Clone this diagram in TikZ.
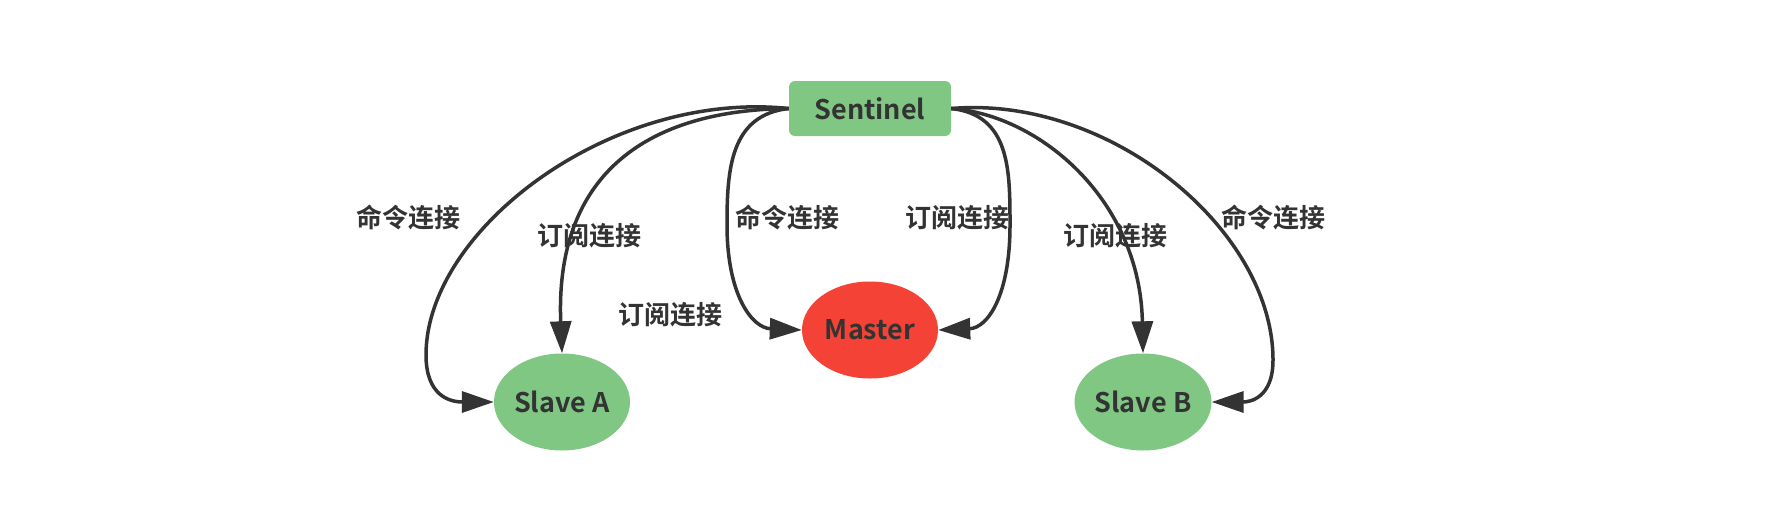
\documentclass[tikz,border=0pt]{standalone}
\usepackage{fontspec}
\setmainfont{Noto Sans CJK SC}[BoldFont={Noto Sans CJK SC Bold}]
\usetikzlibrary{arrows.meta,shapes.geometric}
\definecolor{nodegreen}{HTML}{81C784}
\definecolor{nodered}{HTML}{F44336}
\definecolor{ink}{HTML}{333333}
\tikzset{
  boxnode/.style={draw=none,fill=nodegreen,rounded corners=6pt,minimum width=162pt,minimum height=55pt,inner sep=0pt,text=ink,font=\fontsize{27pt}{30pt}\selectfont\bfseries},
  ellnode/.style={ellipse,draw=none,minimum width=136pt,minimum height=97pt,inner sep=0pt,text=ink,font=\fontsize{27pt}{30pt}\selectfont\bfseries},
  lbl/.style={text=ink,inner sep=0pt,font=\fontsize{26pt}{28pt}\selectfont\bfseries},
  conn/.style={draw=ink,line width=3.5pt,-{Triangle[length=32pt,width=21pt]}}
}
\begin{document}
\begin{tikzpicture}[x=1pt,y=-1pt]
\useasboundingbox[fill=white] (0,0) rectangle (1790,525);
\node[boxnode] (S) at (870,108.5) {Sentinel};
\node[ellnode,fill=nodered] (M) at (870,330) {Master};
\node[ellnode,fill=nodegreen] (A) at (562,402) {Slave A};
\node[ellnode,fill=nodegreen] (B) at (1143,402) {Slave B};

\node[lbl] (l1) at (408,218) {命令连接};
\node[lbl] (l2) at (589,236) {订阅连接};
\node[lbl] (l3) at (670,315) {订阅连接};
\node[lbl] (l4) at (787,218) {命令连接};
\node[lbl] (l5) at (957,218) {订阅连接};
\node[lbl] (l6) at (1115,236) {订阅连接};
\node[lbl] (l7) at (1273,218) {命令连接};

% Sentinel -> Slave A (command)
\draw[conn] (S.west) .. controls (610,90) and (426,230) .. (426,355) .. controls (426,396) and (450,402) .. (A.west);
% Sentinel -> Slave A (subscribe)
\draw[conn] (S.west) .. controls (640,110) and (555,180) .. (A.north);
% Sentinel -> Master (command)
\draw[conn] (S.west) .. controls (730,115) and (727,170) .. (727,225) .. controls (727,295) and (752,328) .. (M.west);
% Sentinel -> Master (subscribe)
\draw[conn] (S.east) .. controls (1010,115) and (1010,170) .. (1010,225) .. controls (1010,295) and (988,328) .. (M.east);
% Sentinel -> Slave B (subscribe)
\draw[conn] (S.east) .. controls (1040,115) and (1140,200) .. (B.north);
% Sentinel -> Slave B (command)
\draw[conn] (S.east) .. controls (1110,95) and (1273,230) .. (1273,360) .. controls (1273,398) and (1250,402) .. (B.east);
\end{tikzpicture}
\end{document}
